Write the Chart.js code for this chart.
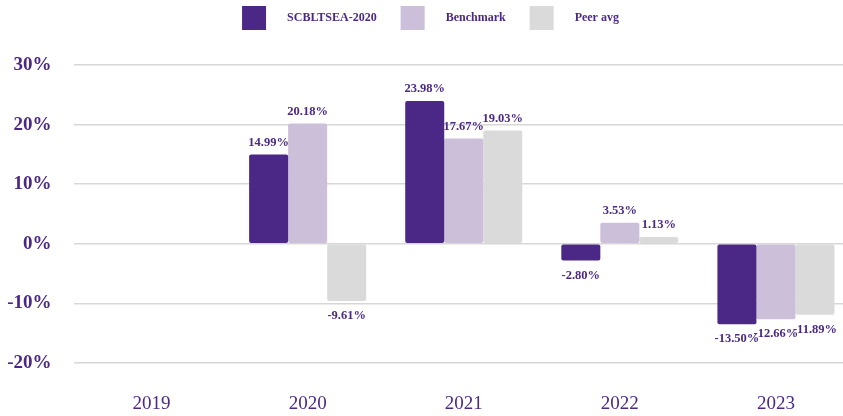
<!DOCTYPE html>
<html>
<head>
<meta charset="utf-8">
<script src="https://cdn.jsdelivr.net/npm/chart.js@4.4.1/dist/chart.umd.min.js"></script>
<style>
    html, body { margin: 0; padding: 0; background: #fff; overflow: hidden; }
    #wrap { position: relative; width: 855px; height: 416px; }
</style>
</head>
<body>
<div id="wrap"><canvas id="returnsChart"></canvas></div>
<script>
    // calendar-year returns, in %
    const years = ['2019', '2020', '2021', '2022', '2023'];
    const fundReturns = [null, 14.99, 23.98, -2.80, -13.50];
    const benchReturns = [null, 20.18, 17.67, 3.53, -12.66];
    const peerReturns = [null, -9.61, 19.03, 1.13, -11.89];
    const seriesNames = ['SCBLTSEA-2020', 'Benchmark', 'Peer avg'];
    const yTicks = [-20, -10, 0, 10, 20, 30];

    const PURPLE = '#4b2885';
    const LILAC = '#cbbfd9';
    const GREY = '#dadada';
    const SERIF = '"Liberation Serif", "Times New Roman", serif';

    // value labels above positive bars, below negative ones
    const barValueLabels = {
        id: 'barValueLabels',
        afterDatasetsDraw(chart) {
            const ctx = chart.ctx;
            ctx.save();
            ctx.font = 'bold 12.5px ' + SERIF;
            ctx.fillStyle = PURPLE;
            ctx.textAlign = 'center';
            ctx.textBaseline = 'middle';
            chart.data.datasets.forEach((ds, i) => {
                const meta = chart.getDatasetMeta(i);
                meta.data.forEach((bar, j) => {
                    const v = ds.data[j];
                    if (v === null || v === undefined) return;
                    const y = v >= 0 ? bar.y - 12 : bar.y + 15;
                    ctx.fillText(v.toFixed(2) + '%', bar.x, y);
                });
            });
            ctx.restore();
        }
    };

    // leave room between the legend and the plot
    const legendGap = {
        id: 'legendGap',
        beforeInit(chart) {
            const origFit = chart.legend.fit;
            chart.legend.fit = function() {
                origFit.bind(chart.legend)();
                this.height += 25;
            };
        }
    };

    const colours = [PURPLE, LILAC, GREY];
    const series = [fundReturns, benchReturns, peerReturns];

    new Chart(document.getElementById('returnsChart'), {
        type: 'bar',
        data: {
            labels: years,
            datasets: series.map((d, i) => ({
                label: seriesNames[i],
                data: d,
                backgroundColor: colours[i],
                borderWidth: 0,
                borderRadius: 2,
                borderSkipped: false,
                categoryPercentage: 0.75,
                barPercentage: 1.0
            }))
        },
        options: {
            responsive: true,
            maintainAspectRatio: false,
            animation: false,
            devicePixelRatio: 1,
            layout: { padding: { left: 7, right: 1, top: 0, bottom: 0 } },
            plugins: {
                tooltip: { enabled: false },
                legend: {
                    position: 'top',
                    labels: {
                        boxWidth: 24,
                        boxHeight: 24,
                        padding: 6,
                        color: PURPLE,
                        font: { family: SERIF, size: 12, weight: 'bold' },
                        generateLabels(chart) {
                            const items = Chart.defaults.plugins.legend.labels.generateLabels(chart);
                            items.forEach((it, i) => {
                                it.text = '\u2003 ' + it.text + (i < items.length - 1 ? '\u2003\u2002' : '');
                                it.lineWidth = 0;
                            });
                            return items;
                        }
                    }
                }
            },
            scales: {
                x: {
                    grid: { display: false, drawTicks: false },
                    border: { display: false },
                    afterFit(scale) { scale.height = 53; },
                    ticks: {
                        padding: 30,
                        color: PURPLE,
                        font: { family: SERIF, size: 19 }
                    }
                },
                y: {
                    min: yTicks[0],
                    max: yTicks[yTicks.length - 1],
                    afterBuildTicks(scale) {
                        scale.ticks = yTicks.map(v => ({ value: v }));
                    },
                    afterFit(scale) { scale.width = 66.5; },
                    grid: { color: '#d7d7d7', lineWidth: 1.6, drawTicks: false },
                    border: { display: false },
                    ticks: {
                        padding: 22,
                        color: PURPLE,
                        font: { family: SERIF, size: 19, weight: 'bold' },
                        callback: v => v + '%'
                    }
                }
            }
        },
        plugins: [barValueLabels, legendGap]
    });
</script>
</body>
</html>
